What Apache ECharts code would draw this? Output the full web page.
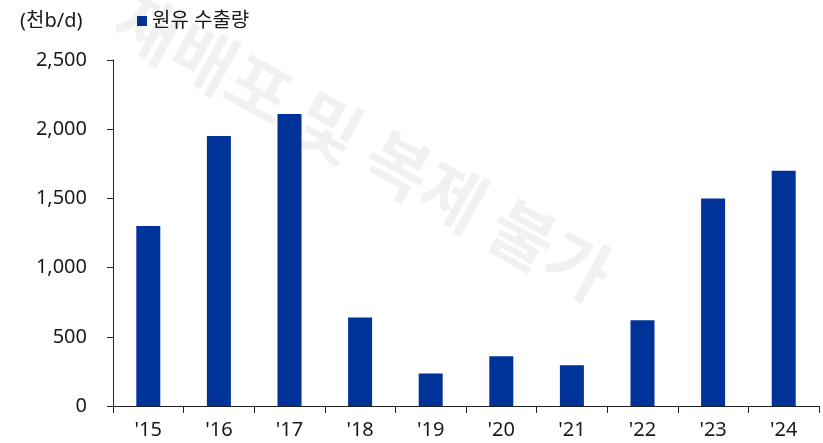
<!DOCTYPE html>
<html><head><meta charset="utf-8">
<script src="https://cdn.jsdelivr.net/npm/echarts@6/dist/echarts.min.js"></script>
<style>html,body{margin:0;padding:0;background:#fff}#c{width:823px;height:443px}</style>
</head><body><div id="c"></div>
<script>
const categories = ["'15","'16","'17","'18","'19","'20","'21","'22","'23","'24"];
const crudeExports = [1300, 1950, 2110, 640, 235, 360, 295, 620, 1500, 1700];
const seriesName = '원유 수출량';
const unitLabel = '(천b/d)';
const watermarkText = '재배포 및 복제 불가';

const FONT = "'Noto Sans', 'Noto Sans CJK KR', sans-serif";
const chart = echarts.init(document.getElementById('c'));
chart.setOption({
  animation: false,
  backgroundColor: '#fff',
  title: {
    text: unitLabel, left: 20, top: 11, padding: 0,
    textStyle: { fontFamily: FONT, fontSize: 20, fontWeight: 'normal', color: '#1a1a1a' }
  },
  legend: {
    data: [seriesName], left: 137, top: 11, padding: 0,
    icon: 'rect', itemWidth: 10, itemHeight: 10,
    textStyle: { fontFamily: FONT, fontSize: 20, color: '#1a1a1a' }
  },
  grid: { left: 113, right: 4, top: 60, bottom: 37, containLabel: false },
  xAxis: {
    type: 'category', data: categories,
    axisLine: { lineStyle: { color: '#222', width: 1 } },
    axisTick: { show: true, length: 7, lineStyle: { color: '#222' } },
    axisLabel: { fontFamily: FONT, fontSize: 20, color: '#1a1a1a', margin: 14 }
  },
  yAxis: {
    type: 'value', min: 0, max: 2500, interval: 500,
    splitLine: { show: false },
    axisLine: { show: true, lineStyle: { color: '#222', width: 1 } },
    axisTick: { show: true, length: 6, lineStyle: { color: '#222' } },
    axisLabel: {
      fontFamily: FONT, fontSize: 20, color: '#1a1a1a', margin: 26,
      formatter: v => v.toLocaleString('en-US')
    }
  },
  series: [{
    name: seriesName, type: 'bar', data: crudeExports,
    barWidth: 24, itemStyle: { color: '#003399' }
  }],
  graphic: [{
    type: 'text', z: 100, silent: true,
    x: 606, y: 281, rotation: -29 * Math.PI / 180,
    style: {
      text: watermarkText, fill: 'rgba(0,0,0,0.055)',
      font: "bold 69px 'Noto Sans CJK KR', sans-serif",
      textAlign: 'right', textVerticalAlign: 'middle'
    }
  }]
});
</script></body></html>
